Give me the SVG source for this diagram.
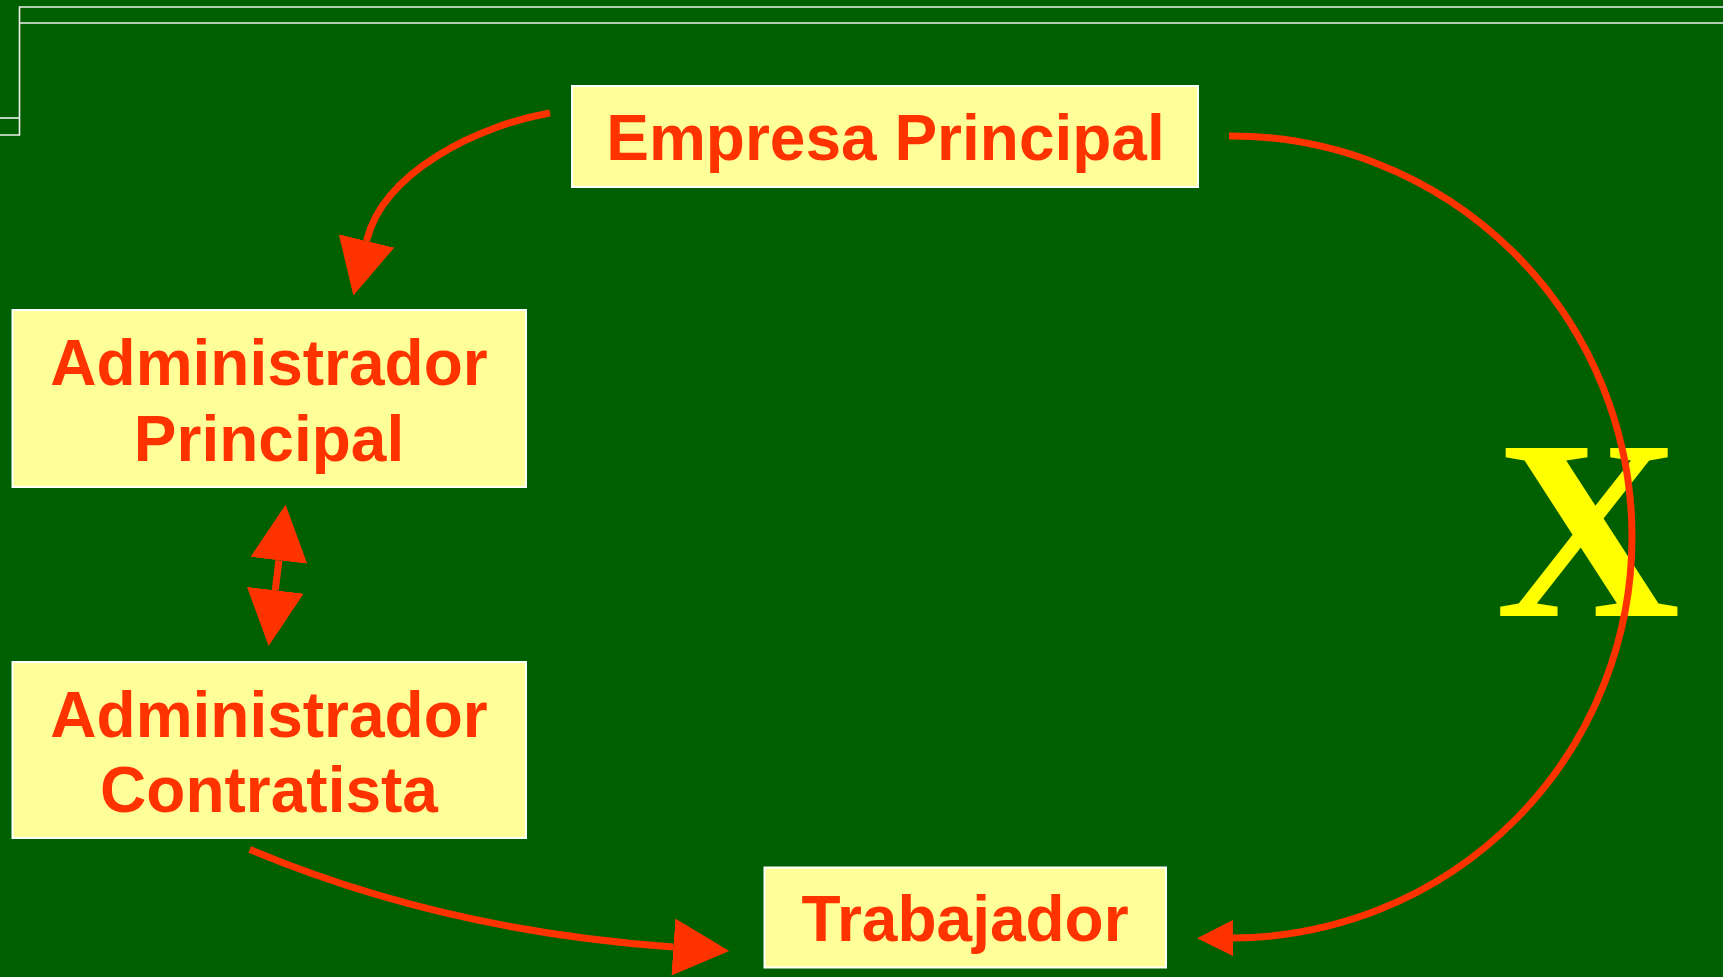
<svg xmlns="http://www.w3.org/2000/svg" width="1723" height="977" viewBox="0 0 1723 977">
<defs>
<style>
.box{fill:#FFFF99;stroke:#FFFFFF;stroke-width:2}
.lbl{font-family:"Liberation Sans",Arial,sans-serif;font-weight:bold;font-size:64px;fill:#FF3300;text-anchor:middle}
.con{fill:none;stroke:#FF3300;stroke-width:7}
.frame{fill:none;stroke:#F0F0F0;stroke-width:1.6}
</style>
<marker id="big" markerUnits="userSpaceOnUse" markerWidth="57" markerHeight="57" refX="0" refY="28.5" orient="auto-start-reverse" viewBox="0 0 57 57">
<path d="M0,0 L56,28.5 L0,57 Z" fill="#FF3300"/>
</marker>
<marker id="small" markerUnits="userSpaceOnUse" markerWidth="37" markerHeight="37" refX="0" refY="18" orient="auto" viewBox="0 0 37 37">
<path d="M0,0 L36,18 L0,36 Z" fill="#FF3300"/>
</marker>
</defs>
<rect x="0" y="0" width="1723" height="977" fill="#006000"/>
<g id="frame">
<polyline class="frame" points="1723,7 19.5,7 19.5,135 0,135"/>
<line class="frame" x1="19.5" y1="23" x2="1723" y2="23"/>
<line class="frame" x1="0" y1="118" x2="19.5" y2="118"/>
</g>
<g id="empresa">
<rect class="box" x="572" y="86" width="626" height="101"/>
<text class="lbl" x="885.5" y="160">Empresa Principal</text>
</g>
<g id="admin-principal">
<rect class="box" x="12.5" y="310" width="513.5" height="177"/>
<text class="lbl" x="269" y="385">Administrador</text>
<text class="lbl" x="269" y="461">Principal</text>
</g>
<g id="admin-contratista">
<rect class="box" x="12.5" y="662" width="513.5" height="176"/>
<text class="lbl" x="269" y="737">Administrador</text>
<text class="lbl" x="269" y="812">Contratista</text>
</g>
<g id="trabajador">
<rect class="box" x="764.5" y="867.5" width="401.5" height="100"/>
<text class="lbl" x="965" y="941">Trabajador</text>
</g>
<g id="x-mark">
<text x="1588" y="616" font-family="'Liberation Serif','Times New Roman',serif" font-weight="bold" font-size="256" fill="#FFFF00" text-anchor="middle">X</text>
</g>
<g id="connectors">
<path class="con" d="M550,113 C480,125 383.4,170.8 366.5,241" marker-end="url(#big)"/>
<path class="con" d="M278.9,560.3 L275.3,590.3" marker-start="url(#big)" marker-end="url(#big)"/>
<path class="con" d="M249.8,849.5 Q443.7,930.9 673.4,947" marker-end="url(#big)"/>
<path class="con" d="M1229,136 A401,401 0 0 1 1233,938" marker-end="url(#small)"/>
</g>
</svg>
